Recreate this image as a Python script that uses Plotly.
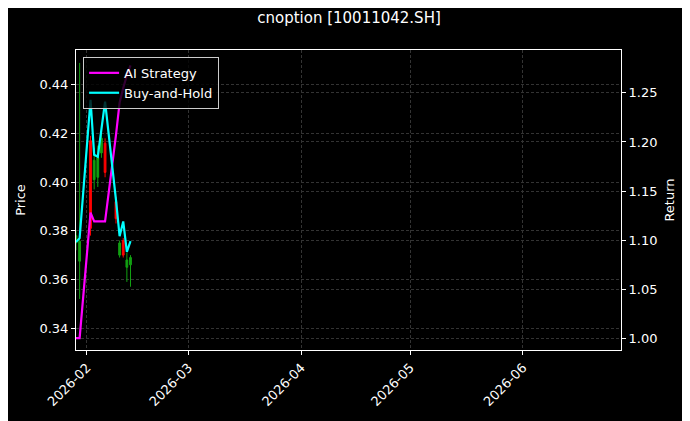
import plotly.graph_objects as go

dates = ["2026-01-29", "2026-01-30", "2026-02-02", "2026-02-03", "2026-02-04",
         "2026-02-05", "2026-02-06", "2026-02-09", "2026-02-10", "2026-02-11",
         "2026-02-12", "2026-02-13"]
open_p = [0.375, 0.3675, 0.417, 0.401, 0.402, 0.412, 0.416, 0.392, 0.370, 0.376, 0.365, 0.366]
high_p = [0.380, 0.449, 0.419, 0.414, 0.415, 0.421, 0.418, 0.394, 0.376, 0.377, 0.371, 0.370]
low_p = [0.372, 0.352, 0.378, 0.397, 0.398, 0.410, 0.402, 0.383, 0.369, 0.369, 0.359, 0.357]
close_p = [0.378, 0.3757, 0.381, 0.409, 0.410, 0.418, 0.404, 0.385, 0.375, 0.370, 0.368, 0.369]

ai_strategy = [1.000, 1.000, 1.128, 1.119, 1.119, 1.119, 1.119, 1.207, 1.240, 1.255, 1.268, 1.278]
buy_hold = [1.098, 1.102, 1.243, 1.187, 1.185, 1.212, 1.241, 1.141, 1.104, 1.119, 1.088, 1.099]

month_ticks = ["2026-02-01", "2026-03-01", "2026-04-01", "2026-05-01", "2026-06-01"]
month_labels = ["2026-02", "2026-03", "2026-04", "2026-05", "2026-06"]

title_text = "cnoption [10011042.SH]"

font_family = "DejaVu Sans"

fig = go.Figure()
fig.add_trace(go.Candlestick(
    x=dates, open=open_p, high=high_p, low=low_p, close=close_p,
    increasing=dict(line=dict(color="#12a012", width=1), fillcolor="#12a012"),
    decreasing=dict(line=dict(color="#ff0000", width=1), fillcolor="#ff0000"),
    showlegend=False, yaxis="y",
))
fig.add_trace(go.Scatter(
    x=dates, y=ai_strategy, mode="lines", name="AI Strategy",
    line=dict(color="#ff00ff", width=2.2), yaxis="y2",
))
fig.add_trace(go.Scatter(
    x=dates, y=buy_hold, mode="lines", name="Buy-and-Hold",
    line=dict(color="#00ffff", width=2.2), yaxis="y2",
))

axis_common = dict(
    showline=True, linecolor="white", linewidth=1,
    ticks="outside", ticklen=4, tickcolor="white",
    tickfont=dict(color="white", size=13, family=font_family),
    gridcolor="#333333", griddash="3px,2px", gridwidth=0.6,
    zeroline=False,
)

# page body has an 8px margin, so the figure is sized/offset to fit 690x421
fig.update_layout(
    width=682, height=413,
    paper_bgcolor="black", plot_bgcolor="black",
    margin=dict(l=62, r=69, t=42, b=70),
    font=dict(family=font_family, color="white", size=13),
    title=dict(text=title_text, x=0.5, xanchor="center", y=0.976, yanchor="middle",
               font=dict(size=15, color="white", family=font_family)),
    xaxis=dict(
        type="date", range=["2026-01-29", "2026-06-28"],
        rangeslider=dict(visible=False),
        tickvals=month_ticks, ticktext=month_labels,
        tickangle=-45, mirror=True, showgrid=True,
        **axis_common,
    ),
    yaxis=dict(
        range=[0.331, 0.4543], dtick=0.02, tick0=0.34, tickformat=".2f",
        title=dict(text="Price", standoff=10, font=dict(size=13, color="white")),
        showgrid=True, side="left",
        **axis_common,
    ),
    yaxis2=dict(
        range=[0.988, 1.2937], dtick=0.05, tick0=1.0, tickformat=".2f",
        overlaying="y", side="right",
        title=dict(text="Return", standoff=8, font=dict(size=13, color="white")),
        showgrid=True,
        **axis_common,
    ),
    legend=dict(
        x=0.013, y=0.977, xanchor="left", yanchor="top",
        bgcolor="rgba(0,0,0,0.8)", bordercolor="#cccccc", borderwidth=1,
        font=dict(size=13, color="white", family=font_family),
    ),
)

fig.write_html("out.html")
